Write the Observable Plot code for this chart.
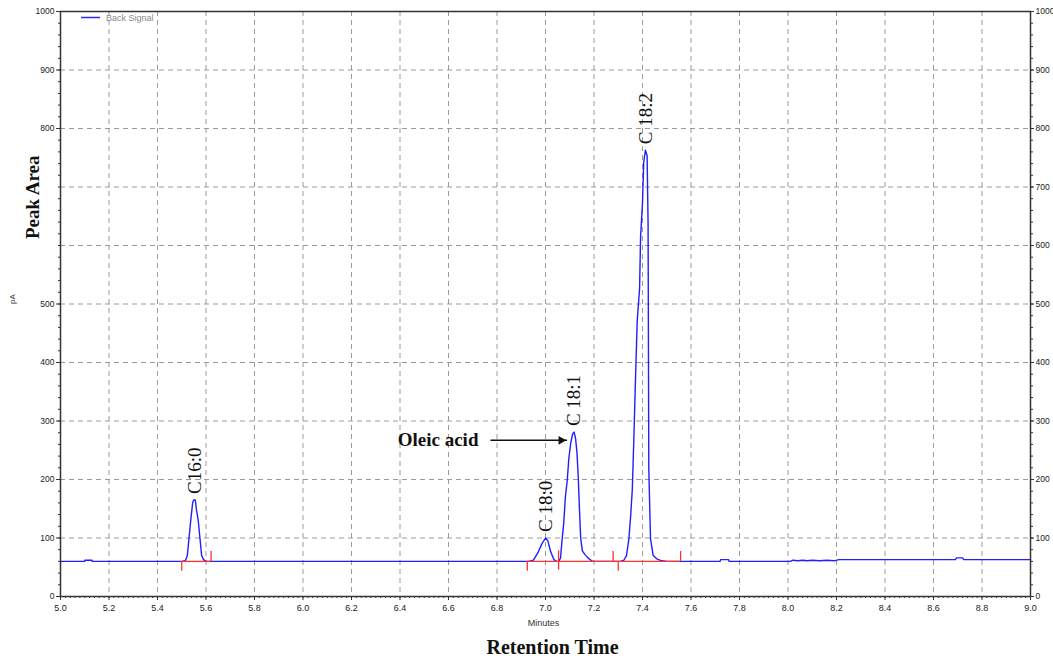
<!DOCTYPE html>
<html><head><meta charset="utf-8">
<script src="https://cdn.jsdelivr.net/npm/d3@7"></script>
<script src="https://cdn.jsdelivr.net/npm/@observablehq/plot@0.6"></script>
<style>body{margin:0;background:#fff;} #chart{width:1053px;height:667px;}</style>
</head><body><div id="chart"></div>
<script>
// ---- tick labels ----
const xTickLabels = ["5.0","5.2","5.4","5.6","5.8","6.0","6.2","6.4","6.6","6.8","7.0","7.2","7.4","7.6","7.8","8.0","8.2","8.4","8.6","8.8","9.0"];
const yTickLeft = [0,100,200,300,400,500,800,900,1000];
const yTickRight = [0,100,200,300,400,500,600,700,800,900,1000];
const yGridValues = [100,200,300,400,500,600,700,800,900];

// ---- detector signal (minutes, pA) ----
const sigTime = [5.00,5.10,5.101,5.13,5.131,5.50,
  5.515,5.523,5.530,5.537,5.545,5.549,5.556,5.560,5.568,5.575,5.582,5.590,5.600,
  6.93,6.95,6.97,6.985,7.00,7.01,7.02,7.035,7.045,7.055,
  7.062,7.068,7.075,7.082,7.090,7.096,7.104,7.112,7.118,7.124,7.130,7.135,7.140,7.145,7.152,7.162,7.175,7.190,7.200,
  7.310,7.323,7.334,7.344,7.351,7.358,7.364,7.371,7.378,7.388,7.392,7.400,7.405,7.412,7.419,7.423,7.426,7.433,7.444,7.460,7.480,7.500,
  7.720,7.722,7.755,7.757,8.010,8.020,8.040,8.060,8.080,8.100,8.130,8.160,8.190,8.210,8.690,8.695,8.720,8.725,9.000];
const sigValue = [60,60,62,62,60,60,
  61,70,100,130,160,165,165,150,130,100,70,63,60,
  60,62,76,90,100,95,78,63,60,60,
  66,95,125,170,200,235,262,278,281,270,245,205,150,100,78,72,66,61,60,
  60,62,70,99,137,183,265,370,469,527,614,673,742,763,754,638,218,99,70,64,61,60,
  60,63,63,60,60,62,61,62,61,62,61,62,61,63,63,66,66,63,63];

// ---- peak labels ----
const peakNames = ["C16:0","C 18:0","C 18:1","C 18:2"];
const peakTimes = [5.553,7.0,7.118,7.412];
const peakHeights = [165,100,281,763];

// ---- integration baselines and markers ----
const intStart = [5.50,6.925];
const intEnd = [5.621,7.557];
const intLevel = [60,60];
const markTimes = [5.50,5.621,6.925,7.054,7.279,7.30,7.557];
const markLow  = [43,60,43,45,60,43,60];
const markHigh = [60,77,60,78,77,60,77];

// ---- annotation ----
const oleicLabel = "Oleic acid";
const oleicFrom = 6.773, oleicTo = 7.089, oleicLevel = 267;

// ---- build tables ----
const signal = sigTime.map((t,i)=>({t, v: sigValue[i]}));
const peaks = peakNames.map((name,i)=>({name, t: peakTimes[i], h: peakHeights[i]}));
const integ = intStart.map((s,i)=>({s, e: intEnd[i], y: intLevel[i]}));
const markers = markTimes.map((t,i)=>({t, lo: markLow[i], hi: markHigh[i]}));
const oleic = [{label: oleicLabel, from: oleicFrom, to: oleicTo, y: oleicLevel}];
const xTicks = xTickLabels.map(Number);
const xGridValues = xTicks.slice(1, -1);
const xMinor = d3.range(0, 201).map(i => +(5 + i*0.02).toFixed(2));
const yMinor = d3.range(0, 51).map(i => i*20);

const serif = "'Liberation Serif', 'Times New Roman', serif";
const gridStyle = {stroke: "#9a9a9a", strokeOpacity: 1, strokeDasharray: "5,4", strokeWidth: 1};

const legend = (index, scales, values, dims) => {
  const g = d3.create("svg:g");
  const x0 = dims.marginLeft, y0 = dims.marginTop;
  g.append("line").attr("x1", x0 + 21).attr("x2", x0 + 40).attr("y1", y0 + 6.5).attr("y2", y0 + 6.5)
    .attr("stroke", "#2a2aff").attr("stroke-width", 1.5);
  g.append("text").attr("x", x0 + 46).attr("y", y0 + 6.8).attr("dy", "0.32em")
    .attr("text-anchor", "start")
    .attr("fill", "#8a8a8a").attr("font-size", 9).attr("font-family", "'Liberation Sans', Arial, sans-serif")
    .text("Back Signal");
  return g.node();
};

const chart = Plot.plot({
  width: 1053, height: 667,
  marginLeft: 60, marginRight: 23, marginTop: 11, marginBottom: 71,
  x: {domain: [5, 9]},
  y: {domain: [0, 1000]},
  style: {fontFamily: "'Liberation Sans', Arial, sans-serif", fontSize: "9px", background: "#fff", color: "#222"},
  marks: [
    Plot.gridX(xGridValues, gridStyle),
    Plot.gridY(yGridValues, gridStyle),
    Plot.axisX(xTicks, {tickSize: 4, tickPadding: 4, tickFormat: d => d.toFixed(1), label: null, stroke: "#333", fontSize: 9}),
    Plot.axisX(xMinor, {tickSize: 2, tickFormat: () => "", label: null, stroke: "#333"}),
    Plot.axisY(yTickLeft, {anchor: "left", tickSize: 4, tickPadding: 2, tickFormat: d => String(d), label: null, stroke: "#333", fontSize: 8.5}),
    Plot.axisY(yMinor, {anchor: "left", tickSize: 2, tickFormat: () => "", label: null, stroke: "#333"}),
    Plot.axisY(yTickRight, {anchor: "right", tickSize: 3, tickPadding: 2, tickFormat: d => String(d), label: null, stroke: "#333", fontSize: 8.5}),
    Plot.axisY(yMinor, {anchor: "right", tickSize: 2, tickFormat: () => "", label: null, stroke: "#333"}),
    Plot.line(signal, {x: "t", y: "v", stroke: "#1f1fff", strokeWidth: 1.4}),
    Plot.ruleY(integ, {x1: "s", x2: "e", y: "y", stroke: "#ff3030", strokeWidth: 1.3}),
    Plot.ruleX(markers, {x: "t", y1: "lo", y2: "hi", stroke: "#ff3030", strokeWidth: 1.3}),
    Plot.text(peaks, {x: "t", y: "h", text: "name", rotate: -90, textAnchor: "start", dy: -6,
      fontFamily: serif, fontSize: 19, fill: "#111"}),
    Plot.link(oleic, {x1: "from", x2: "to", y1: "y", y2: "y", stroke: "#111", strokeWidth: 1.4}),
    Plot.dot(oleic, {x: "to", y: "y", symbol: "triangle2", rotate: 90, r: 4.2, dx: -6, fill: "#111", stroke: "none"}),
    Plot.text(oleic, {x: "from", y: "y", text: "label", textAnchor: "end", dx: -12,
      fontFamily: serif, fontWeight: "bold", fontSize: 19, fill: "#111"}),
    Plot.frame({stroke: "#333", strokeWidth: 1.5}),
    legend,
    Plot.text(["Peak Area"], {frameAnchor: "left", rotate: -90, dx: -28, dy: -65,
      fontFamily: serif, fontWeight: "bold", fontSize: 19, fill: "#111"}),
    Plot.text(["pA"], {frameAnchor: "left", rotate: -90, dx: -48, dy: 0, fontSize: 8, fill: "#333"}),
    Plot.text(["Minutes"], {frameAnchor: "bottom", dy: 29, dx: -2, fontSize: 9, fill: "#333"}),
    Plot.text(["Retention Time"], {frameAnchor: "bottom", dy: 57, dx: 7,
      fontFamily: serif, fontWeight: "bold", fontSize: 20, fill: "#111"})
  ]
});
document.getElementById("chart").appendChild(chart);
</script>
</body></html>
